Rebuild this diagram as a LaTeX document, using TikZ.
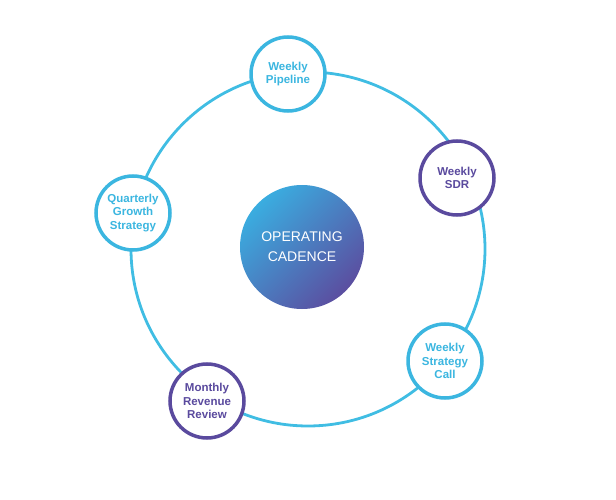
\documentclass[tikz,border=0pt]{standalone}
\usepackage{fontspec}
\setmainfont{Liberation Sans}
\definecolor{ringblue}{HTML}{40BDE3}
\definecolor{stageblue}{HTML}{3BB6E0}
\definecolor{stagepurple}{HTML}{5A4A9E}
\definecolor{shadeblue}{HTML}{3AADE0}
\definecolor{shadepurple}{HTML}{5B4EA0}
\begin{document}
\begin{tikzpicture}[x=1pt, y=-1pt,
    stage/.style={circle, draw, fill=white, line width=3.5pt, minimum size=74pt, inner sep=0pt, align=center, font=\bfseries\fontsize{11.5}{13.2}\selectfont},
    bluestage/.style={stage, draw=stageblue, text=stageblue},
    purplestage/.style={stage, draw=stagepurple, text=stagepurple}]
    \useasboundingbox (0,0) rectangle (616,500);
    \draw[ringblue, line width=2.8pt] (308,249) circle[radius=177pt];

    \node[circle, minimum size=124pt, inner sep=0pt, top color=shadeblue, bottom color=shadepurple, shading angle=45, text=white, align=center, font=\fontsize{14}{20}\selectfont] (cadence) at (302,247) {OPERATING\\CADENCE};

    \node[bluestage] (pipeline) at (288,74) {Weekly\\Pipeline};
    \node[purplestage] (sdr) at (457,178) {Weekly\\SDR};
    \node[bluestage] (call) at (445,361) {Weekly\\Strategy\\Call};
    \node[purplestage] (revenue) at (207,401) {Monthly\\Revenue\\Review};
    \node[bluestage] (growth) at (133,213) {Quarterly\\Growth\\Strategy};
\end{tikzpicture}
\end{document}
